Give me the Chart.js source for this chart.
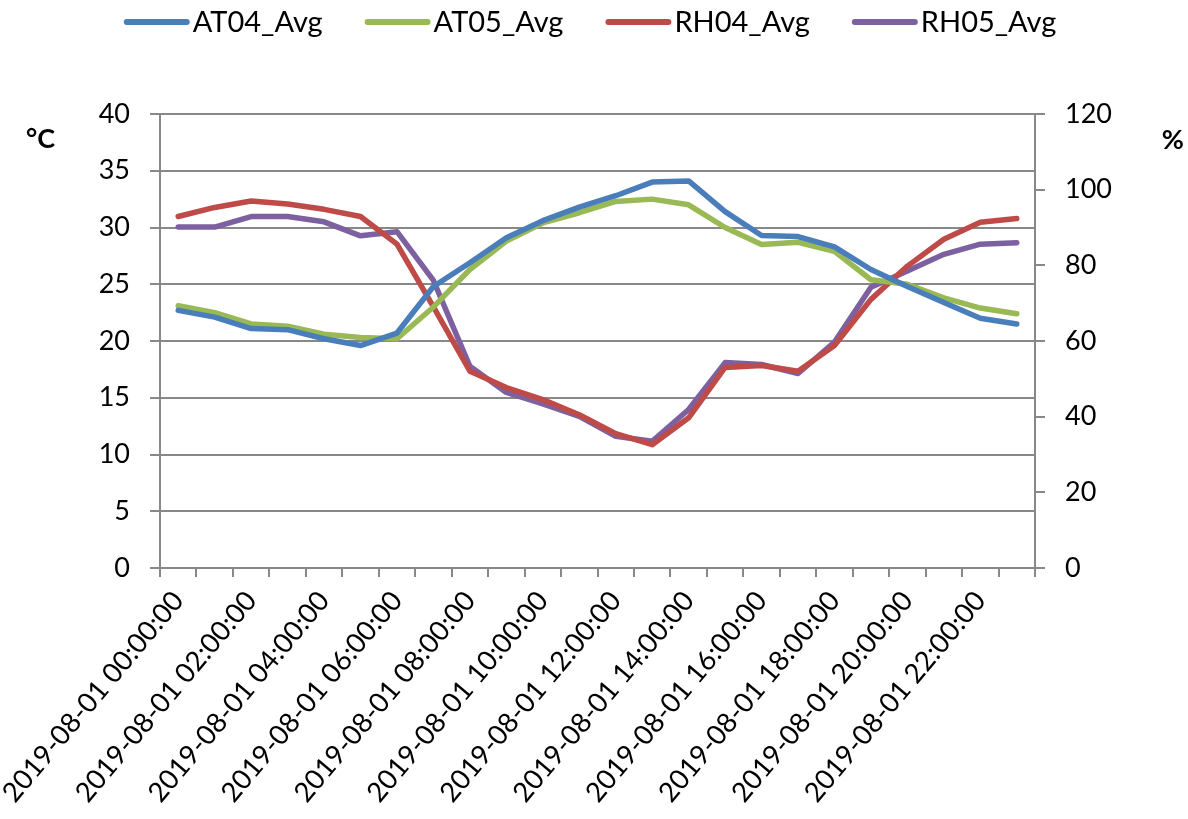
<!DOCTYPE html>
<html>
<head>
<meta charset="utf-8">
<script src="https://cdn.jsdelivr.net/npm/chart.js@4"></script>
<style>
  html, body { margin: 0; padding: 0; background: #fff; }
  #wrap { width: 1188px; height: 819px; }
</style>
</head>
<body>
<div id="wrap"><canvas id="chart" width="1188" height="819"></canvas></div>
<script>
// Hourly averages for 2019-08-01
const times = [
    "2019-08-01 00:00:00", "2019-08-01 01:00:00", "2019-08-01 02:00:00", "2019-08-01 03:00:00",
    "2019-08-01 04:00:00", "2019-08-01 05:00:00", "2019-08-01 06:00:00", "2019-08-01 07:00:00",
    "2019-08-01 08:00:00", "2019-08-01 09:00:00", "2019-08-01 10:00:00", "2019-08-01 11:00:00",
    "2019-08-01 12:00:00", "2019-08-01 13:00:00", "2019-08-01 14:00:00", "2019-08-01 15:00:00",
    "2019-08-01 16:00:00", "2019-08-01 17:00:00", "2019-08-01 18:00:00", "2019-08-01 19:00:00",
    "2019-08-01 20:00:00", "2019-08-01 21:00:00", "2019-08-01 22:00:00", "2019-08-01 23:00:00"
];

// Air temperature (°C)
const at04 = [22.7, 22.1, 21.1, 21.0, 20.2, 19.6, 20.7, 24.8, 26.9, 29.1, 30.6, 31.8,
              32.8, 34.0, 34.1, 31.4, 29.3, 29.2, 28.3, 26.3, 24.8, 23.4, 22.0, 21.5];
const at05 = [23.1, 22.5, 21.5, 21.3, 20.6, 20.3, 20.2, 23.0, 26.3, 28.8, 30.4, 31.3,
              32.3, 32.5, 32.0, 30.0, 28.5, 28.7, 27.9, 25.4, 25.0, 23.8, 22.9, 22.4];

// Relative humidity (%)
const rh04 = [92.9, 95.3, 97.0, 96.2, 94.8, 92.9, 85.6, 69.0, 52.0, 47.7, 44.5, 40.5,
              35.5, 32.6, 39.7, 53.0, 53.5, 52.0, 58.8, 71.0, 79.8, 86.9, 91.4, 92.4];
const rh05 = [90.1, 90.1, 92.9, 92.9, 91.5, 87.8, 88.9, 76.0, 53.3, 46.4, 43.4, 40.1,
              34.8, 33.5, 41.9, 54.3, 53.8, 51.4, 59.7, 74.2, 78.5, 82.9, 85.6, 86.0];

const axisGray = '#888888';
const tickFont = { family: 'Lato, "Open Sans", sans-serif', size: 27 };

// plot area edges on the canvas
const plotLeft = 160, plotRight = 1035, plotTop = 114, plotBottom = 568;

// line legend at the top, line swatch right against the text
const topLegend = {
    id: 'topLegend',
    afterDraw(chart) {
        const ctx = chart.ctx;
        const sets = chart.data.datasets;
        const boxW = 66, gap = 3, spacing = 42, y = 22;
        ctx.save();
        ctx.font = '29px Lato, "Open Sans", sans-serif';
        const widths = sets.map(d => boxW + gap + ctx.measureText(d.label).width);
        const total = widths.reduce((a, b) => a + b, 0) + spacing * (sets.length - 1);
        let x = (chart.width - total) / 2 - 4;
        sets.forEach((d, i) => {
            ctx.strokeStyle = d.borderColor;
            ctx.lineWidth = 6;
            ctx.lineCap = 'round';
            ctx.beginPath();
            ctx.moveTo(x + 3, y);
            ctx.lineTo(x + boxW - 3, y);
            ctx.stroke();
            ctx.fillStyle = '#000';
            ctx.textBaseline = 'middle';
            ctx.textAlign = 'left';
            ctx.fillText(d.label, x + boxW + gap, y + 1);
            x += widths[i] + spacing;
        });
        ctx.restore();
    }
};

// unit labels beside the two value axes
const unitLabels = {
    id: 'unitLabels',
    afterDraw(chart) {
        const ctx = chart.ctx;
        const a = chart.chartArea;
        ctx.save();
        ctx.font = 'bold 27px Lato, "Open Sans", sans-serif';
        ctx.fillStyle = '#000';
        ctx.textBaseline = 'middle';
        ctx.textAlign = 'left';
        ctx.fillText('°C', 26, a.top + 25);
        ctx.textAlign = 'right';
        ctx.fillText('%', chart.width - 4, a.top + 26);
        ctx.restore();
    }
};

const line = (label, data, color, axis) => ({
    label, data, yAxisID: axis,
    borderColor: color, backgroundColor: color,
    borderWidth: 5.5, pointRadius: 0, tension: 0,
    borderJoinStyle: 'round', borderCapStyle: 'round'
});

new Chart(document.getElementById('chart'), {
    type: 'line',
    data: {
        labels: times,
        datasets: [
            line('AT04_Avg', at04, '#4A7EBB', 'y'),
            line('AT05_Avg', at05, '#98B954', 'y'),
            line('RH04_Avg', rh04, '#BE4B48', 'y1'),
            line('RH05_Avg', rh05, '#7D60A0', 'y1')
        ]
    },
    options: {
        responsive: false,
        animation: false,
        layout: { padding: { top: plotTop, left: 0, right: 0, bottom: 0 } },
        plugins: {
            legend: { display: false },
            tooltip: { enabled: false }
        },
        scales: {
            x: {
                offset: true,
                grid: { display: true, drawOnChartArea: false, offset: true, tickLength: 9, color: axisGray, lineWidth: 2 },
                border: { display: true, color: axisGray, width: 2 },
                ticks: {
                    autoSkip: false,
                    maxRotation: 50, minRotation: 50,
                    padding: 8,
                    color: '#000',
                    font: { family: 'Lato, "Open Sans", sans-serif', size: 27.5 },
                    callback: (v, i) => (i % 2 === 0 ? times[i] : '')
                },
                afterFit(s) { s.height = 819 - plotBottom; s.paddingLeft = 0; s.paddingRight = 0; }
            },
            y: {
                position: 'left',
                min: 0, max: 40,
                ticks: { stepSize: 5, padding: 20, color: '#000', font: tickFont },
                grid: { color: axisGray, lineWidth: 2, tickLength: 10 },
                border: { display: true, color: axisGray, width: 2 },
                afterFit(s) { s.width = plotLeft; }
            },
            y1: {
                position: 'right',
                min: 0, max: 120,
                ticks: { stepSize: 20, padding: 20, color: '#000', font: tickFont },
                grid: { drawOnChartArea: false, color: axisGray, lineWidth: 2, tickLength: 10 },
                border: { display: true, color: axisGray, width: 2 },
                afterFit(s) { s.width = 1188 - plotRight; }
            }
        }
    },
    plugins: [topLegend, unitLabels]
});
</script>
</body>
</html>
